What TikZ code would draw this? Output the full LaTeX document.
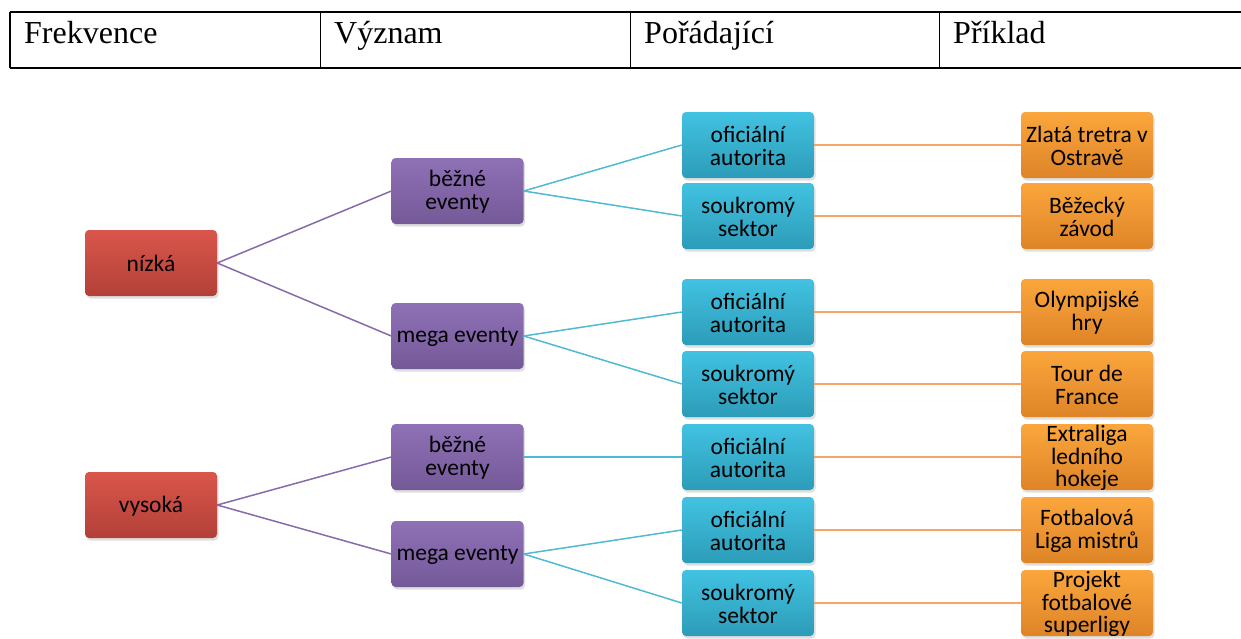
\documentclass[tikz,border=0pt]{standalone}
\usepackage{fontspec}
\setmainfont{Liberation Serif}
\newfontfamily\boxfont{Carlito}
\usetikzlibrary{positioning, shadows}

\definecolor{redtop}{RGB}{218,86,75}
\definecolor{redbot}{RGB}{178,64,56}
\definecolor{purtop}{RGB}{143,113,182}
\definecolor{purbot}{RGB}{116,89,152}
\definecolor{blutop}{RGB}{66,194,226}
\definecolor{blubot}{RGB}{44,156,184}
\definecolor{orgtop}{RGB}{251,166,60}
\definecolor{orgbot}{RGB}{222,132,40}
\definecolor{purline}{RGB}{135,106,170}
\definecolor{bluline}{RGB}{80,185,212}
\definecolor{orgline}{RGB}{247,165,100}

\newcommand{\Txt}[1]{\parbox[c][0pt][c]{130pt}{\centering\vspace*{8pt}#1}}

\tikzset{
    box/.style={rounded corners=4pt, minimum width=132pt, minimum height=66pt,
      inner sep=0pt, font=\boxfont\fontsize{23.5}{22.6}\selectfont,
      drop shadow={opacity=0.25, shadow xshift=1.5pt, shadow yshift=-2.5pt}},
    freq/.style={box, top color=redtop, bottom color=redbot},
    kind/.style={box, top color=purtop, bottom color=purbot},
    org/.style={box, top color=blutop, bottom color=blubot},
    ex/.style={box, top color=orgtop, bottom color=orgbot},
    head/.style={anchor=base west, inner sep=0pt, font=\fontsize{32}{36}\selectfont},
    plink/.style={draw=purline, line width=1.5pt},
    blink/.style={draw=bluline, line width=1.5pt},
    olink/.style={draw=orgline, line width=1.5pt},
}

\begin{document}
\begin{tikzpicture}[x=1pt, y=-1pt]
    \useasboundingbox (0,0) rectangle (1241,638);

    % header table
    \draw[line width=2pt] (10,12) -- (1241,12);
    \draw[line width=2pt] (10,68) -- (1241,68);
    \draw[line width=2pt] (10,12) -- (10,68);
    \foreach \x in {320.5, 630.5, 939.5}
      \draw[line width=1.2pt] (\x,12) -- (\x,68);
    \node[head] (h1) at (24,43) {Frekvence};
    \node[head] (h2) at (334,43) {Význam};
    \node[head] (h3) at (644,43) {Pořádající};
    \node[head] (h4) at (953,43) {Příklad};

    % frequency
    \node[freq] (n1) at (151,263) {\Txt{nízká}};
    \node[freq] (n2) at (151,505) {\Txt{vysoká}};

    % kind of event
    \node[kind] (b1) at (457.5,191) {\Txt{běžné\\eventy}};
    \node[kind] (m1) at (457.5,336) {\Txt{mega eventy}};
    \node[kind] (b2) at (457.5,457) {\Txt{běžné\\eventy}};
    \node[kind] (m2) at (457.5,554) {\Txt{mega eventy}};

    % organiser
    \node[org] (o1) at (748,145) {\Txt{oficiální\\autorita}};
    \node[org] (s1) at (748,216) {\Txt{soukromý\\sektor}};
    \node[org] (o2) at (748,312) {\Txt{oficiální\\autorita}};
    \node[org] (s2) at (748,384) {\Txt{soukromý\\sektor}};
    \node[org] (o3) at (748,457) {\Txt{oficiální\\autorita}};
    \node[org] (o4) at (748,530) {\Txt{oficiální\\autorita}};
    \node[org] (s3) at (748,603) {\Txt{soukromý\\sektor}};

    % examples
    \node[ex] (e1) at (1087,145) {\Txt{Zlatá tretra v\\Ostravě}};
    \node[ex] (e2) at (1087,216) {\Txt{Běžecký\\závod}};
    \node[ex] (e3) at (1087,312) {\Txt{Olympijské\\hry}};
    \node[ex] (e4) at (1087,384) {\Txt{Tour de\\France}};
    \node[ex] (e5) at (1087,457) {\Txt{Extraliga\\ledního\\hokeje}};
    \node[ex] (e6) at (1087,530) {\Txt{Fotbalová\\Liga mistrů}};
    \node[ex] (e7) at (1087,603) {\Txt{Projekt\\fotbalové\\superligy}};

    \draw[plink] (n1.east) -- (b1.west);
    \draw[plink] (n1.east) -- (m1.west);
    \draw[plink] (n2.east) -- (b2.west);
    \draw[plink] (n2.east) -- (m2.west);

    \draw[blink] (b1.east) -- (o1.west);
    \draw[blink] (b1.east) -- (s1.west);
    \draw[blink] (m1.east) -- (o2.west);
    \draw[blink] (m1.east) -- (s2.west);
    \draw[blink] (b2.east) -- (o3.west);
    \draw[blink] (m2.east) -- (o4.west);
    \draw[blink] (m2.east) -- (s3.west);

    \draw[olink] (o1.east) -- (e1.west);
    \draw[olink] (s1.east) -- (e2.west);
    \draw[olink] (o2.east) -- (e3.west);
    \draw[olink] (s2.east) -- (e4.west);
    \draw[olink] (o3.east) -- (e5.west);
    \draw[olink] (o4.east) -- (e6.west);
    \draw[olink] (s3.east) -- (e7.west);
\end{tikzpicture}
\end{document}
